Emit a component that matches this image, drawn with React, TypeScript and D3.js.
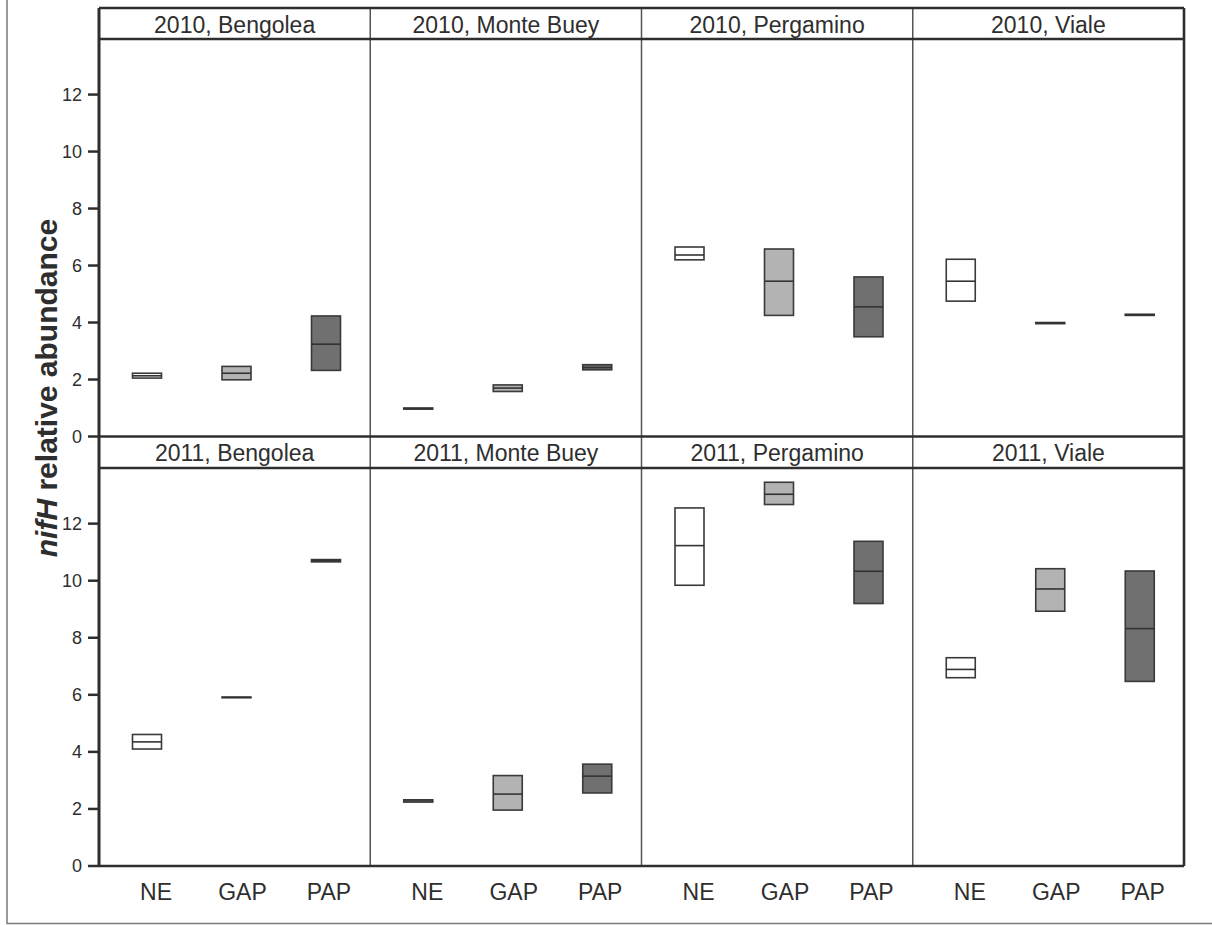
import React from "react";
import * as d3 from "d3";

const years = ["2010", "2011"];
const sites = ["Bengolea", "Monte Buey", "Pergamino", "Viale"];
const treatments = ["NE", "GAP", "PAP"];
const yTicks = [0, 2, 4, 6, 8, 10, 12];

// per year: [site][treatment]
const lower2010 = [[2.05, 1.99, 2.32], [0.96, 1.58, 2.34], [6.2, 4.25, 3.5], [4.75, 3.96, 4.25]];
const median2010 = [[2.13, 2.22, 3.24], [0.98, 1.7, 2.42], [6.37, 5.45, 4.55], [5.45, 3.98, 4.27]];
const upper2010 = [[2.22, 2.46, 4.23], [1.0, 1.81, 2.52], [6.65, 6.58, 5.6], [6.22, 4.0, 4.29]];

const lower2011 = [[4.1, 5.9, 10.66], [2.24, 1.96, 2.56], [9.84, 12.67, 9.2], [6.6, 8.93, 6.47]];
const median2011 = [[4.35, 5.91, 10.7], [2.28, 2.52, 3.15], [11.23, 13.03, 10.33], [6.89, 9.71, 8.32]];
const upper2011 = [[4.61, 5.92, 10.74], [2.32, 3.17, 3.57], [12.55, 13.45, 11.38], [7.3, 10.42, 10.34]];

const fills = ["#ffffff", "#b3b3b3", "#707070"];

const lowers = [lower2010, lower2011];
const medians = [median2010, median2011];
const uppers = [upper2010, upper2011];

const LEFT = 99;
const RIGHT = 1184;
const ROWS = [
  { stripTop: 8, plotTop: 39, plotBottom: 436.5 },
  { stripTop: 436.5, plotTop: 468, plotBottom: 866 },
];
const DARK = "#2e2e2e";
const FONT = "'Liberation Sans', Arial, Helvetica, sans-serif";

export default function App() {
  const colX = d3.scaleBand<string>().domain(sites).range([LEFT, RIGHT]);
  const panelW = colX.bandwidth();
  const boxX = d3.scalePoint<string>().domain(treatments).range([48, 227]);
  const labelX = d3.scalePoint<string>().domain(treatments).range([57, 230]);
  const boxW = 29;

  return (
    <svg width={1212} height={925} style={{ position: "absolute", left: 0, top: 0, background: "#fff" }} fontFamily={FONT}>
      {/* outer frame */}
      <path d={`M7,-5 V923.5 H1215`} fill="none" stroke="#7a7a7a" strokeWidth={1.5} />

      {years.map((yr, r) => {
        const row = ROWS[r];
        const y = d3.scaleLinear().domain([0, 13.95]).range([row.plotBottom, row.plotTop]);
        return (
          <g key={yr}>
            {/* column dividers */}
            {sites.slice(1).map((s) => (
              <line key={s} x1={colX(s)!} x2={colX(s)!} y1={row.stripTop} y2={row.plotBottom} stroke="#555" strokeWidth={1.5} />
            ))}
            {/* strip labels */}
            {sites.map((s) => (
              <text key={s} x={colX(s)! + panelW / 2} y={row.stripTop + 24.5} textAnchor="middle" fontSize={23} fill={DARK}>
                {`${yr}, ${s}`}
              </text>
            ))}
            {/* boxes */}
            {sites.map((s, si) => (
              <g key={s} transform={`translate(${colX(s)},0)`}>
                {treatments.map((t, ti) => {
                  const lo = lowers[r][si][ti];
                  const md = medians[r][si][ti];
                  const hi = uppers[r][si][ti];
                  const cx = boxX(t)!;
                  return (
                    <g key={t}>
                      <rect
                        x={cx - boxW / 2}
                        y={y(hi)}
                        width={boxW}
                        height={y(lo) - y(hi)}
                        fill={fills[ti]}
                        stroke="#3a3a3a"
                        strokeWidth={1.6}
                      />
                      <line x1={cx - boxW / 2} x2={cx + boxW / 2} y1={y(md)} y2={y(md)} stroke="#333" strokeWidth={1.6} />
                    </g>
                  );
                })}
              </g>
            ))}
            {/* y ticks */}
            {yTicks.map((v) => (
              <g key={v}>
                <line x1={LEFT - 11} x2={LEFT} y1={y(v)} y2={y(v)} stroke={DARK} strokeWidth={2.5} />
                <text x={LEFT - 17} y={y(v)} dy="0.36em" textAnchor="end" fontSize={18} fill={DARK}>
                  {v}
                </text>
              </g>
            ))}
            {/* strip frame */}
            <line x1={LEFT} x2={RIGHT} y1={row.stripTop} y2={row.stripTop} stroke={DARK} strokeWidth={2.6} />
            <line x1={LEFT} x2={RIGHT} y1={row.plotTop} y2={row.plotTop} stroke={DARK} strokeWidth={2.6} />
          </g>
        );
      })}

      {/* bottom & side frame */}
      <line x1={LEFT} x2={RIGHT} y1={866} y2={866} stroke={DARK} strokeWidth={2.6} />
      <line x1={LEFT} x2={LEFT} y1={8} y2={866} stroke={DARK} strokeWidth={3} />
      <line x1={RIGHT} x2={RIGHT} y1={8} y2={866} stroke={DARK} strokeWidth={2.6} />

      {/* x labels */}
      {sites.map((s) => (
        <g key={s} transform={`translate(${colX(s)},0)`}>
          {treatments.map((t) => (
            <text key={t} x={labelX(t)!} y={900} textAnchor="middle" fontSize={23} fill={DARK}>
              {t}
            </text>
          ))}
        </g>
      ))}

      {/* y title */}
      <text
        transform="translate(57,388) rotate(-90)"
        textAnchor="middle"
        fontSize={30}
        fontWeight="bold"
        fill={DARK}
      >
        <tspan fontStyle="italic">nifH</tspan>
        <tspan> relative abundance</tspan>
      </text>
    </svg>
  );
}
